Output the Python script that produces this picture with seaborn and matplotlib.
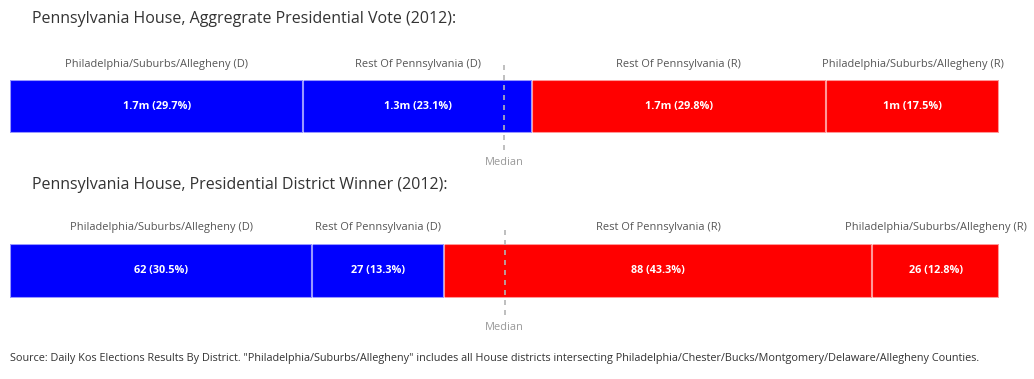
import matplotlib
matplotlib.use("Agg")
import matplotlib.pyplot as plt
import seaborn as sns
import numpy as np

# Segments, left to right
segments = ["Philadelphia/Suburbs/Allegheny (D)", "Rest Of Pennsylvania (D)",
            "Rest Of Pennsylvania (R)", "Philadelphia/Suburbs/Allegheny (R)"]
seg_colors = ["#0000ff", "#0000ff", "#ff0000", "#ff0000"]

# Aggregate presidential vote (share, %)
vote_pct = [29.7, 23.1, 29.8, 17.5]
vote_labels = ["1.7m (29.7%)", "1.3m (23.1%)", "1.7m (29.8%)", "1m (17.5%)"]

# Presidential district winner (number of districts)
district_counts = [62, 27, 88, 26]
district_labels = ["62 (30.5%)", "27 (13.3%)", "88 (43.3%)", "26 (12.8%)"]

titles = ["Pennsylvania House, Aggregrate Presidential Vote (2012):",
          "Pennsylvania House, Presidential District Winner (2012):"]
source = ('Source: Daily Kos Elections Results By District. "Philadelphia/Suburbs/Allegheny" '
          'includes all House districts intersecting Philadelphia/Chester/Bucks/Montgomery/'
          'Delaware/Allegheny Counties.')

sns.set_style("white")
plt.rcParams["font.family"] = ["Open Sans", "DejaVu Sans"]

W, H = 1034, 379
fig = plt.figure(figsize=(W / 100, H / 100), dpi=100)


def stacked_bar(ax, values, labels):
    cum = np.cumsum(values)
    # draw from the longest cumulative bar to the shortest so they stack visually
    for i in reversed(range(len(values))):
        sns.barplot(x=[cum[i]], y=["row"], orient="h", color=seg_colors[i],
                    saturation=1, width=1, edgecolor=(1, 1, 1, 0.6),
                    linewidth=1.5, ax=ax)
    ax.set_xlim(0, cum[-1])
    ax.set_ylim(0.5, -0.5)
    ax.set_axis_off()
    tr = ax.get_xaxis_transform()
    starts = cum - np.array(values)
    for s, v, seg, lab in zip(starts, values, segments, labels):
        c = s + v / 2
        ax.text(c, 0.5, lab, transform=tr, ha="center", va="center",
                color="white", fontsize=7.8, fontweight="bold")
        ax.text(c, 1.3, seg, transform=tr, ha="center", va="center",
                color="#555555", fontsize=7.9, clip_on=False)
    med = cum[-1] / 2
    ax.axvline(med, ymin=-0.32, ymax=1.28, color="#b4b4b4", lw=1.2,
               ls=(0, (3, 3)), clip_on=False, zorder=5)
    ax.text(med, -0.55, "Median", transform=tr, ha="center", va="center",
            color="#999999", fontsize=7.9, clip_on=False)


ax1 = fig.add_axes([10 / W, 1 - 133 / H, 989 / W, 53 / H])
stacked_bar(ax1, vote_pct, vote_labels)
ax2 = fig.add_axes([10 / W, 1 - 298 / H, 989 / W, 54 / H])
stacked_bar(ax2, district_counts, district_labels)

fig.text(32 / W, 1 - 19 / H, titles[0], fontsize=11.5, color="#333333", va="center")
fig.text(32 / W, 1 - 185 / H, titles[1], fontsize=11.5, color="#333333", va="center")
fig.text(10 / W, 1 - 358 / H, source, fontsize=7.8, color="#333333", va="center")

fig.savefig("out.png", dpi=100)
